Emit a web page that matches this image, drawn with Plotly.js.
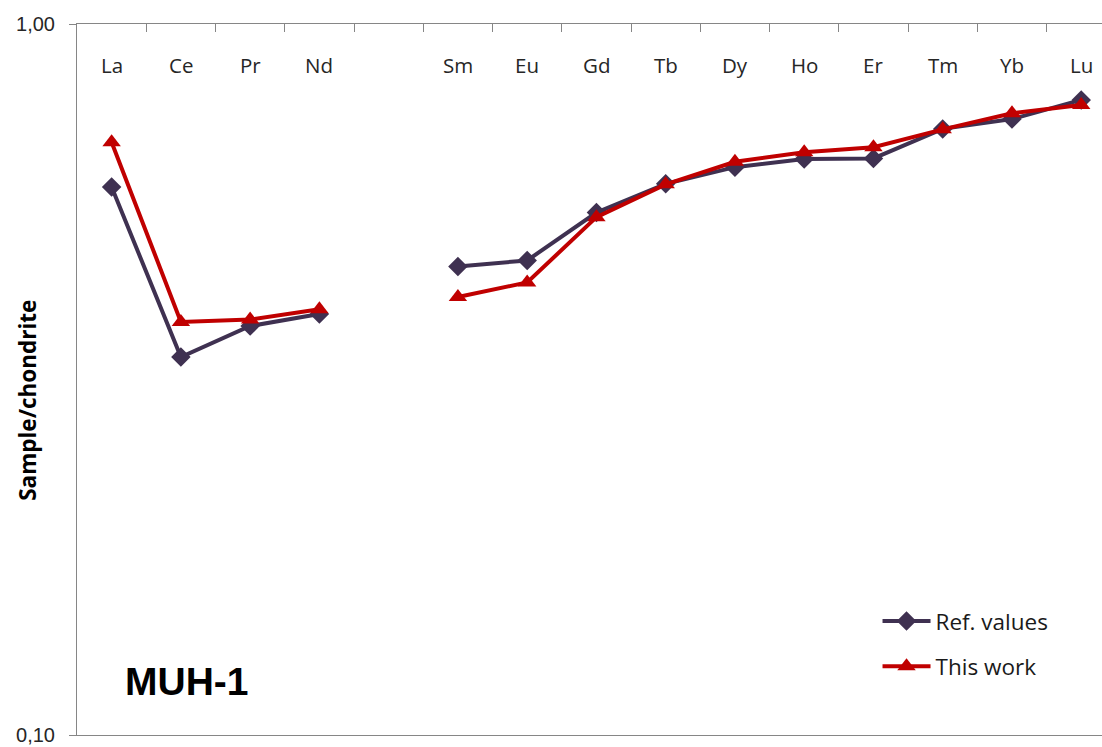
<!DOCTYPE html>
<html>
<head>
<meta charset="utf-8">
<script src="https://cdn.plot.ly/plotly-3.0.1.min.js"></script>
<style>html,body{margin:0;padding:0;background:#fff;}#chart{width:1102px;height:747px;}</style>
</head>
<body>
<div id="chart"></div>
<script>
// Rare earth elements (Pm slot left empty)
const categories = ['La','Ce','Pr','Nd','','Sm','Eu','Gd','Tb','Dy','Ho','Er','Tm','Yb','Lu'];
const refValues = [0.590,0.340,0.376,0.391,null,0.456,0.465,0.543,0.596,0.629,0.646,0.647,0.712,0.735,0.782];
const thisWork  = [0.682,0.381,0.384,0.397,null,0.413,0.433,0.535,0.595,0.640,0.660,0.671,0.711,0.749,0.769];
const yTickVals = [0.1, 1];
const yTickText = ['0,10','1,00'];
const sampleName = 'MUH-1';
const yTitle = 'Sample/chondrite';

const idx = categories.map((c,i)=>i);
const boundaries = categories.slice(1).map((c,i)=>i+0.5);

const traces = [
  {x: idx, y: refValues, name: 'Ref. values', type: 'scatter', mode: 'lines+markers',
   connectgaps: false, legendgroup: 'a',
   line: {color: '#3f3151', width: 4},
   marker: {symbol: 'diamond', size: 15, color: '#3f3151'}},
  {x: idx, y: thisWork, name: 'This work', type: 'scatter', mode: 'lines+markers',
   connectgaps: false, legendgroup: 'b',
   line: {color: '#c00000', width: 4},
   marker: {symbol: 'triangle-up', size: 16, color: '#c00000'}}
];

const annotations = categories.map((c,i)=>({
  x: i, xref: 'x', y: 0.943, yref: 'paper', text: c, showarrow: false,
  font: {family: 'Open Sans, sans-serif', size: 20.5, color: '#262626'},
  xanchor: 'center', yanchor: 'middle'
})).filter(a=>a.text !== '');

annotations.push({
  x: 0.107, xref: 'paper', y: 0.075, yref: 'paper', text: '<b>' + sampleName + '</b>', showarrow: false,
  font: {family: 'Liberation Sans, Arial, sans-serif', size: 39, color: '#000'},
  xanchor: 'center', yanchor: 'middle'
});

annotations.push({
  x: -0.0478, xref: 'paper', y: 0.47, yref: 'paper', text: '<b>' + yTitle + '</b>', showarrow: false,
  textangle: -90,
  font: {family: 'Open Sans, sans-serif', size: 22.5, color: '#000'},
  xanchor: 'center', yanchor: 'middle'
});

const layout = {
  width: 1102, height: 747,
  margin: {l: 77, r: 0, t: 24, b: 12},
  paper_bgcolor: '#fff', plot_bgcolor: '#fff',
  showlegend: true,
  legend: {x: 0.781, y: 0.19, xanchor: 'left', yanchor: 'top',
    font: {family: 'Open Sans, sans-serif', size: 22.5, color: '#1a1a1a'},
    bgcolor: 'rgba(0,0,0,0)', tracegroupgap: 13, itemwidth: 48},
  xaxis: {
    range: [-0.5, 14.3], side: 'top', showgrid: false, zeroline: false,
    showline: true, linecolor: '#868686', linewidth: 1, mirror: true,
    tickmode: 'array', tickvals: boundaries, ticktext: boundaries.map(()=>''),
    ticks: 'inside', ticklen: 8, tickcolor: '#868686', showticklabels: false
  },
  yaxis: {
    type: 'log', range: [-1, 0], showgrid: false, zeroline: false,
    showline: true, linecolor: '#868686', linewidth: 1,
    tickmode: 'array', tickvals: yTickVals, ticktext: yTickText,
    ticks: 'outside', ticklen: 7, tickcolor: '#868686',
    ticklabelstandoff: 10, ticklabeloverflow: 'allow',
    tickfont: {family: 'Liberation Sans, Arial, sans-serif', size: 20, color: '#262626'}
  },
  annotations: annotations
};

Plotly.newPlot('chart', traces, layout, {displayModeBar: false, staticPlot: true});
</script>
</body>
</html>
